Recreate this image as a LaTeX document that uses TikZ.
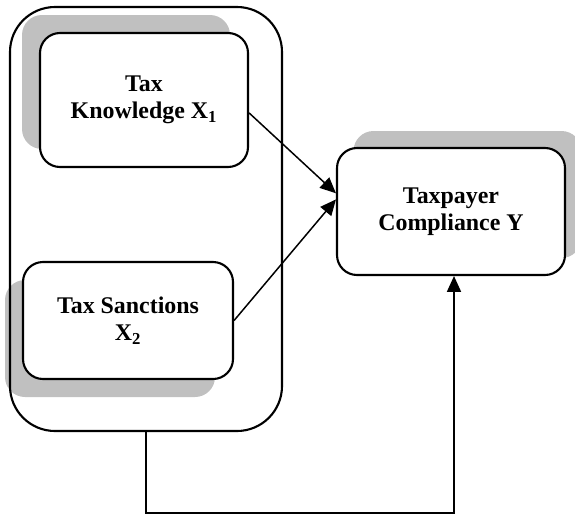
\documentclass[tikz,border=0pt]{standalone}
\usepackage{fontspec}
\setmainfont{Liberation Serif}
\usepackage{tikz}
\usetikzlibrary{arrows.meta}
\usetikzlibrary{shadows}
\definecolor{shadowgray}{RGB}{192,192,192}
\tikzset{
  block/.style={draw=black, rounded corners=0.4cm, line width=1.2pt, fill=white,
    align=center, inner sep=0pt, font=\fontsize{13.6}{15.4}\selectfont\bfseries},
  blockshadow/.style 2 args={general shadow={fill=shadowgray, shadow xshift=#1, shadow yshift=#2}},
  link/.style={line width=0.85pt, -{Triangle[length=9pt,width=8pt]}}
}

\begin{document}
\begin{tikzpicture}
\useasboundingbox (0,0) rectangle (11.5,10.32);

\node[block, blockshadow={-0.36cm}{0.36cm}, minimum width=4.16cm, minimum height=2.68cm] (know) at (2.88,8.32) {Tax\\Knowledge X\textsubscript{1}};
\node[block, blockshadow={-0.36cm}{-0.36cm}, minimum width=4.2cm, minimum height=2.34cm] (sanc) at (2.56,3.91) {Tax Sanctions\\X\textsubscript{2}};
\node[block, blockshadow={0.33cm}{0.34cm}, minimum width=4.56cm, minimum height=2.54cm] (comp) at (9.02,6.09) {Taxpayer\\Compliance Y};
\node[draw=black, rounded corners=0.9cm, line width=1.2pt, minimum width=5.44cm, minimum height=8.48cm] (outer) at (2.92,5.94) {};

\draw[link] (know.-7) to (comp.171);
\draw[link] (sanc.east) to (comp.174);
\draw[link] (outer.south) -- ++(0,-1.62) -| ([xshift=0.06cm]comp.south);
\end{tikzpicture}
\end{document}
